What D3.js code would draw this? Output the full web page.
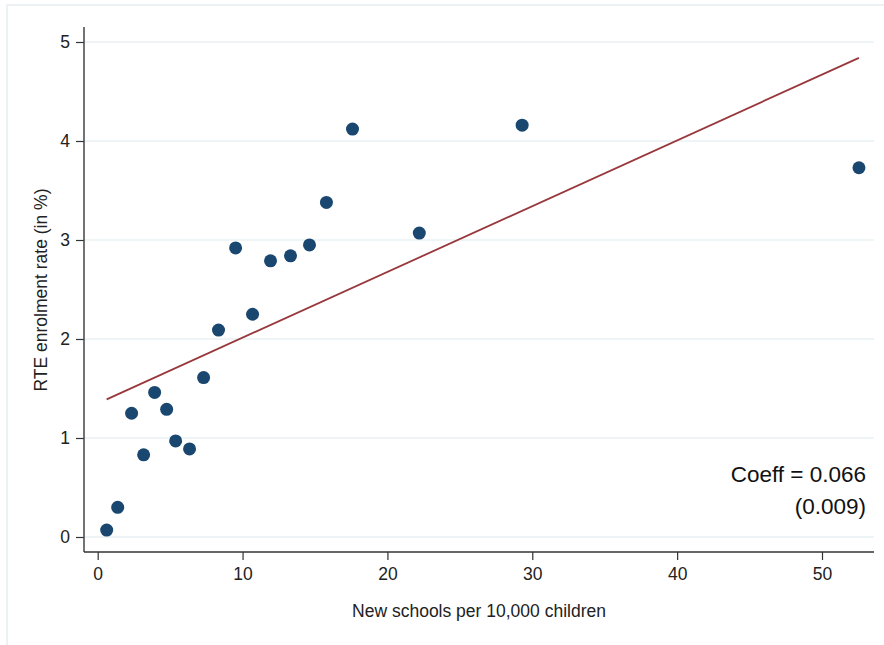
<body style="margin:0"></body>

<script src='https://d3js.org/d3.v7.min.js'></script>
<script>
    // new schools per 10,000 children vs RTE enrolment rate (%)
    const schools = [0.62, 1.38, 2.34, 3.17, 3.93, 4.76, 5.38, 6.34, 7.31, 8.34,
                     9.52, 10.69, 11.93, 13.31, 14.62, 15.79, 17.59, 22.2, 29.3, 52.55];
    const enrol = [0.07, 0.30, 1.25, 0.83, 1.46, 1.29, 0.97, 0.89, 1.61, 2.09,
                   2.92, 2.25, 2.79, 2.84, 2.95, 3.38, 4.12, 3.07, 4.16, 3.73];
    // fitted line end points
    const fitX = [0.62, 52.55];
    const fitY = [1.39, 4.84];
    const xTicks = [0, 10, 20, 30, 40, 50];
    const yTicks = [0, 1, 2, 3, 4, 5];
    const coeffLines = ["Coeff = 0.066", "(0.009)"];

    const width = 884, height = 645;
    const font = "'Liberation Sans', Arial, sans-serif";
    const box = { left: 84, right: 874, top: 27, bottom: 552 };

    var x_scale = d3.scaleLinear().domain([0, 50]).range([97.7, 822]);
    var y_scale = d3.scaleLinear().domain([0, 5]).range([537, 42]);

    var svg = d3.select("body").append("svg")
        .attr("width", width)
        .attr("height", height)
        .style("font-family", font);

    svg.append("rect").attr("width", width).attr("height", height).attr("fill", "white");
    // faint outer frame
    svg.append("rect")
        .attr("x", 7).attr("y", 5)
        .attr("width", width + 10).attr("height", height + 10)
        .attr("fill", "none")
        .attr("stroke", "#e6eef1")
        .attr("stroke-width", 1.5);

    // gridlines
    svg.append("g").selectAll("line")
        .data(yTicks)
        .enter().append("line")
        .attr("x1", box.left).attr("x2", box.right)
        .attr("y1", d => y_scale(d)).attr("y2", d => y_scale(d))
        .attr("stroke", "#eaf2f3")
        .attr("stroke-width", 1.5);

    // axes
    var y_axis = d3.axisLeft(y_scale).tickValues(yTicks).tickSize(8).tickPadding(6).tickFormat(d3.format("d"));
    var x_axis = d3.axisBottom(x_scale).tickValues(xTicks).tickSize(8).tickPadding(8).tickFormat(d3.format("d"));

    var gy = svg.append("g").attr("transform", "translate(" + box.left + ",0)").call(y_axis);
    var gx = svg.append("g").attr("transform", "translate(0," + box.bottom + ")").call(x_axis);
    gy.select(".domain").remove();
    gx.select(".domain").remove();
    [gx, gy].forEach(function (g) {
        g.selectAll("text").attr("font-size", "17.5px").attr("font-family", font).attr("fill", "#222");
        g.selectAll(".tick line").attr("stroke", "#333").attr("stroke-width", 1.2);
    });
    svg.append("line")
        .attr("x1", box.left).attr("x2", box.left)
        .attr("y1", box.top).attr("y2", box.bottom)
        .attr("stroke", "#444").attr("stroke-width", 1.5);
    svg.append("line")
        .attr("x1", box.left).attr("x2", box.right)
        .attr("y1", box.bottom).attr("y2", box.bottom)
        .attr("stroke", "#333").attr("stroke-width", 1.3);

    // fitted line
    svg.append("line")
        .attr("x1", x_scale(fitX[0])).attr("y1", y_scale(fitY[0]))
        .attr("x2", x_scale(fitX[1])).attr("y2", y_scale(fitY[1]))
        .attr("stroke", "#98383c")
        .attr("stroke-width", 1.8);

    // points
    svg.append("g").selectAll("circle")
        .data(schools)
        .enter().append("circle")
        .attr("cx", d => x_scale(d))
        .attr("cy", (d, i) => y_scale(enrol[i]))
        .attr("r", 6.5)
        .attr("fill", "#1a476f");

    // axis titles
    svg.append("text")
        .attr("x", (box.left + box.right) / 2)
        .attr("y", 617)
        .attr("text-anchor", "middle")
        .attr("font-size", "17.5px")
        .attr("fill", "#222")
        .text("New schools per 10,000 children");
    svg.append("text")
        .attr("transform", "translate(47,290) rotate(-90)")
        .attr("text-anchor", "middle")
        .attr("font-size", "17.5px")
        .attr("fill", "#222")
        .text("RTE enrolment rate (in %)");

    // coefficient note
    svg.append("g").selectAll("text")
        .data(coeffLines)
        .enter().append("text")
        .attr("x", 866)
        .attr("y", (d, i) => 482 + i * 32)
        .attr("text-anchor", "end")
        .attr("font-size", "22.5px")
        .attr("fill", "#111")
        .text(d => d);
</script>
